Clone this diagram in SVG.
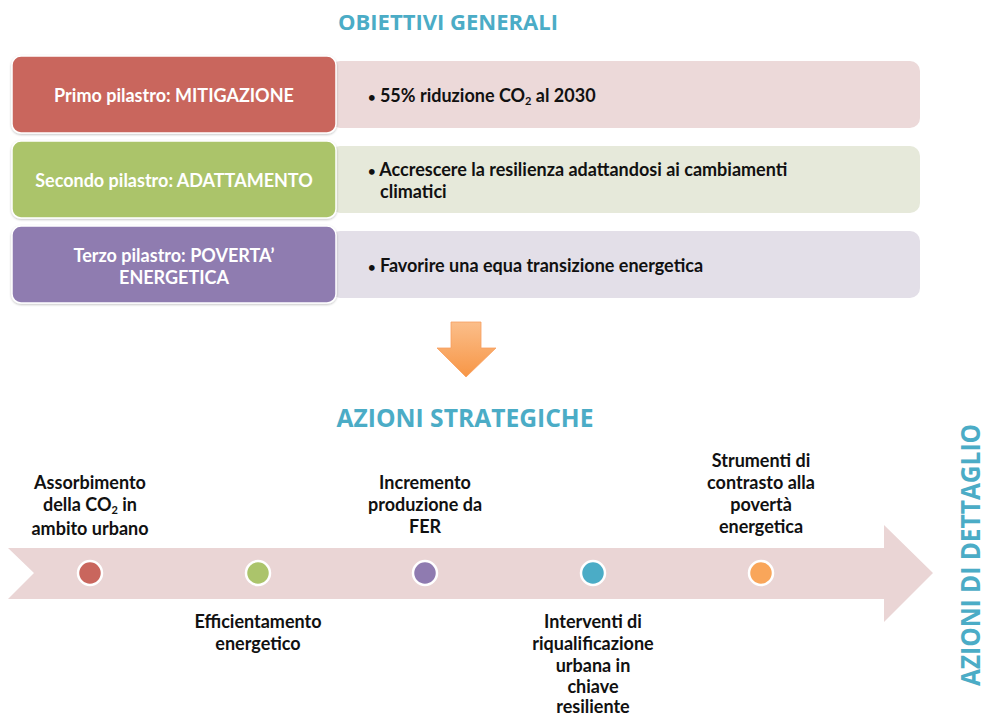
<svg xmlns="http://www.w3.org/2000/svg" width="987" height="717" viewBox="0 0 987 717">
<defs>
<linearGradient id="og" x1="0" y1="0" x2="0" y2="1">
<stop offset="0" stop-color="#FBBE8A"/>
<stop offset="1" stop-color="#F79646"/>
</linearGradient>
<filter id="sh" x="-5%" y="-10%" width="110%" height="130%">
<feDropShadow dx="0" dy="1" stdDeviation="1.2" flood-color="#000" flood-opacity="0.25"/>
</filter>
</defs>
<style>
.t{font-family:Lato,"Liberation Sans",sans-serif;font-weight:bold;}
.hd{font-family:"Open Sans","Liberation Sans",sans-serif;font-weight:bold;fill:#4BACC6;}
.w{fill:#fff;font-size:18px;text-anchor:middle;}
.b{fill:#111;font-size:18px;}
.c{fill:#111;font-size:18px;text-anchor:middle;}
.bu{font-size:13px;}
.dot{stroke:#fff;stroke-width:2.5;}
</style>
<rect width="987" height="717" fill="#fff"/>

<text class="hd" x="448" y="30" font-size="21" text-anchor="middle" textLength="220" lengthAdjust="spacingAndGlyphs">OBIETTIVI GENERALI</text>

<g id="row1">
<rect x="330" y="61" width="590" height="67" rx="10" fill="#ECD9D9"/>
<rect x="12" y="56" width="324" height="77" rx="9" fill="#C9665D" stroke="#fff" stroke-width="1.5" filter="url(#sh)"/>
<text class="t w" x="174" y="102">Primo pilastro: MITIGAZIONE</text>
<text class="t b" x="368" y="102"><tspan class="bu">•</tspan> 55% riduzione CO<tspan font-size="11" dy="3">2</tspan><tspan dy="-3"> al 2030</tspan></text>
</g>

<g id="row2">
<rect x="330" y="146" width="590" height="67" rx="10" fill="#E6E9DA"/>
<rect x="12" y="141" width="324" height="77" rx="9" fill="#ABC46B" stroke="#fff" stroke-width="1.5" filter="url(#sh)"/>
<text class="t w" x="174" y="187">Secondo pilastro: ADATTAMENTO</text>
<text class="t b" x="368" y="176"><tspan class="bu">•</tspan> Accrescere la resilienza adattandosi ai cambiamenti</text>
<text class="t b" x="380" y="198">climatici</text>
</g>

<g id="row3">
<rect x="330" y="231" width="590" height="67" rx="10" fill="#E3DFE8"/>
<rect x="12" y="226" width="324" height="77" rx="9" fill="#8F7BB0" stroke="#fff" stroke-width="1.5" filter="url(#sh)"/>
<text class="t w" x="174" y="262">Terzo pilastro: POVERTA’</text>
<text class="t w" x="174" y="284">ENERGETICA</text>
<text class="t b" x="368" y="272"><tspan class="bu">•</tspan> Favorire una equa transizione energetica</text>
</g>

<g id="connectors">
<path d="M451,322 H481 V348 H496 L466,377 L437,348 H451 Z" fill="url(#og)" stroke="#F7A060" stroke-width="0.8"/>
</g>

<text class="hd" x="465" y="427" font-size="25" text-anchor="middle" textLength="257" lengthAdjust="spacingAndGlyphs">AZIONI STRATEGICHE</text>

<g id="timeline">
<path d="M8,548 H884 V525 L933,573 L884,622 V599 H8 L34,573 Z" fill="#EAD5D5"/>
</g>

<g id="n1">
<circle class="dot" cx="90" cy="573" r="12" fill="#C9665D"/>
<text class="t c" x="90" y="489">Assorbimento</text>
<text class="t c" x="90" y="511">della CO<tspan font-size="11" dy="3">2</tspan><tspan dy="-3"> in</tspan></text>
<text class="t c" x="90" y="535">ambito urbano</text>
</g>
<g id="n2">
<circle class="dot" cx="258" cy="573" r="12" fill="#ABC46B"/>
<text class="t c" x="258" y="628">Efficientamento</text>
<text class="t c" x="258" y="650">energetico</text>
</g>
<g id="n3">
<circle class="dot" cx="425" cy="573" r="12" fill="#8F7BB0"/>
<text class="t c" x="425" y="489">Incremento</text>
<text class="t c" x="425" y="511">produzione da</text>
<text class="t c" x="425" y="533">FER</text>
</g>
<g id="n4">
<circle class="dot" cx="593" cy="573" r="12" fill="#4BACC6"/>
<text class="t c" x="593" y="628">Interventi di</text>
<text class="t c" x="593" y="650">riqualificazione</text>
<text class="t c" x="593" y="672">urbana in</text>
<text class="t c" x="593" y="693">chiave</text>
<text class="t c" x="593" y="713">resiliente</text>
</g>
<g id="n5">
<circle class="dot" cx="761" cy="573" r="12" fill="#F9A65A"/>
<text class="t c" x="761" y="467">Strumenti di</text>
<text class="t c" x="761" y="489">contrasto alla</text>
<text class="t c" x="761" y="511">povertà</text>
<text class="t c" x="761" y="533">energetica</text>
</g>

<text class="hd" transform="translate(980,555) rotate(-90)" font-size="26" text-anchor="middle" textLength="262" lengthAdjust="spacingAndGlyphs" font-family="Liberation Sans">AZIONI DI DETTAGLIO</text>
</svg>
